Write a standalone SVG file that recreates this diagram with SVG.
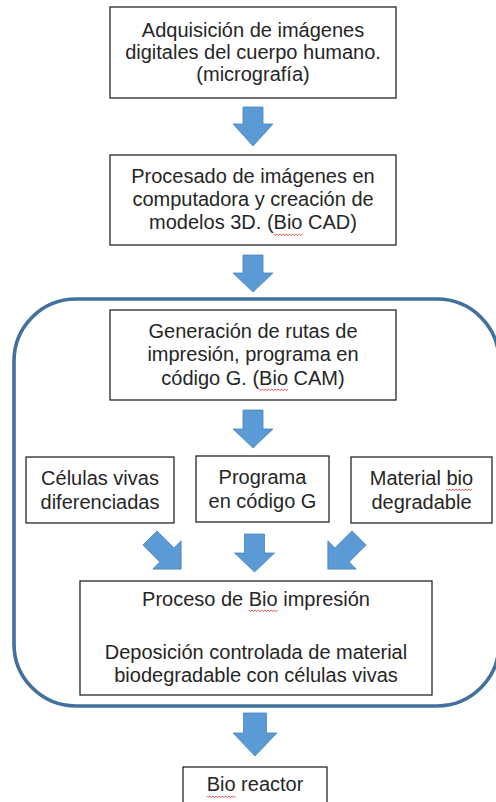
<svg xmlns="http://www.w3.org/2000/svg" width="496" height="802" viewBox="0 0 496 802">
<style>
.box{fill:#fff;stroke:#262626;stroke-width:1.3}
.t{font-family:"Liberation Sans",Arial,sans-serif;font-size:20px;fill:#262626;text-anchor:middle}
.arr{fill:#5B9BD5;stroke:#4A84BD;stroke-width:0.8}
.sq{fill:none;stroke:#E02424;stroke-width:0.8}
</style>
<g id="container">
<rect x="14" y="299" width="485" height="407" rx="62" ry="62" fill="none" stroke="#41719C" stroke-width="3.6"/>
</g>
<g id="connectors">
<path class="arr" d="M243,107 H263 V124 H273 L253,146 L233,124 H243 Z"/>
<path class="arr" d="M243,255 H263 V273 H273 L253,292 L233,273 H243 Z"/>
<path class="arr" d="M243,410 H263 V429 H273 L253,448 L233,429 H243 Z"/>
<path class="arr" d="M244.5,534 H264.5 V553 H274.5 L254.5,572 L234.5,553 H244.5 Z"/>
<path class="arr" transform="translate(150,538) rotate(-45)" d="M-10,0 H10 V24 H20 L0,44 L-20,24 H-10 Z"/>
<path class="arr" transform="translate(359,538) rotate(45)" d="M-10,0 H10 V24 H20 L0,44 L-20,24 H-10 Z"/>
<path class="arr" d="M243.5,713 H266.5 V733 H277 L255,756 L233,733 H243.5 Z"/>
</g>
<g id="n1">
<rect class="box" x="110" y="7" width="286" height="91"/>
<text class="t" x="253" y="37">Adquisición de imágenes</text>
<text class="t" x="253" y="59">digitales del cuerpo humano.</text>
<text class="t" x="253" y="81">(micrografía)</text>
</g>
<g id="n2">
<rect class="box" x="110" y="155" width="286" height="90"/>
<text class="t" x="253" y="183">Procesado de imágenes en</text>
<text class="t" x="253" y="206">computadora y creación de</text>
<text class="t" x="253" y="229">modelos 3D. (Bio CAD)</text>
<path class="sq" d="M273.6,234 l1.6,1.6 l1.6,-1.6 l1.6,1.6 l1.6,-1.6 l1.6,1.6 l1.6,-1.6 l1.6,1.6 l1.6,-1.6 l1.6,1.6 l1.6,-1.6 l1.6,1.6 l1.6,-1.6 l1.6,1.6 l1.6,-1.6 l1.6,1.6 l1.6,-1.6 l1.6,1.6 l1.6,-1.6"/>
</g>
<g id="n3">
<rect class="box" x="110" y="310" width="286" height="90"/>
<text class="t" x="253" y="338">Generación de rutas de</text>
<text class="t" x="253" y="361">impresión, programa en</text>
<text class="t" x="253" y="385">código G. (Bio CAM)</text>
<path class="sq" d="M259.1,389 l1.6,1.6 l1.6,-1.6 l1.6,1.6 l1.6,-1.6 l1.6,1.6 l1.6,-1.6 l1.6,1.6 l1.6,-1.6 l1.6,1.6 l1.6,-1.6 l1.6,1.6 l1.6,-1.6 l1.6,1.6 l1.6,-1.6 l1.6,1.6 l1.6,-1.6 l1.6,1.6 l1.6,-1.6"/>
</g>
<g id="n4">
<rect class="box" x="26" y="457" width="148" height="66"/>
<text class="t" x="100" y="485">Células vivas</text>
<text class="t" x="100" y="509">diferenciadas</text>
</g>
<g id="n5">
<rect class="box" x="196" y="456" width="133" height="66"/>
<text class="t" x="262.5" y="484">Programa</text>
<text class="t" x="262.5" y="508">en código G</text>
</g>
<g id="n6">
<rect class="box" x="351" y="457" width="141" height="66"/>
<text class="t" x="421.5" y="485">Material bio</text>
<text class="t" x="421.5" y="509">degradable</text>
<path class="sq" d="M446.5,489 l1.6,1.6 l1.6,-1.6 l1.6,1.6 l1.6,-1.6 l1.6,1.6 l1.6,-1.6 l1.6,1.6 l1.6,-1.6 l1.6,1.6 l1.6,-1.6 l1.6,1.6 l1.6,-1.6 l1.6,1.6 l1.6,-1.6 l1.6,1.6 l1.6,-1.6"/>
</g>
<g id="n7">
<rect class="box" x="80" y="581" width="352" height="114"/>
<text class="t" x="256" y="606">Proceso de Bio impresión</text>
<text class="t" x="256" y="659">Deposición controlada de material</text>
<text class="t" x="256" y="682">biodegradable con células vivas</text>
<path class="sq" d="M248.8,610 l1.6,1.6 l1.6,-1.6 l1.6,1.6 l1.6,-1.6 l1.6,1.6 l1.6,-1.6 l1.6,1.6 l1.6,-1.6 l1.6,1.6 l1.6,-1.6 l1.6,1.6 l1.6,-1.6 l1.6,1.6 l1.6,-1.6 l1.6,1.6 l1.6,-1.6 l1.6,1.6 l1.6,-1.6"/>
</g>
<g id="n8">
<rect class="box" x="183" y="767" width="144" height="40"/>
<text class="t" x="255" y="791">Bio reactor</text>
<path class="sq" d="M206.6,796 l1.6,1.6 l1.6,-1.6 l1.6,1.6 l1.6,-1.6 l1.6,1.6 l1.6,-1.6 l1.6,1.6 l1.6,-1.6 l1.6,1.6 l1.6,-1.6 l1.6,1.6 l1.6,-1.6 l1.6,1.6 l1.6,-1.6 l1.6,1.6 l1.6,-1.6 l1.6,1.6 l1.6,-1.6"/>
</g>
</svg>
